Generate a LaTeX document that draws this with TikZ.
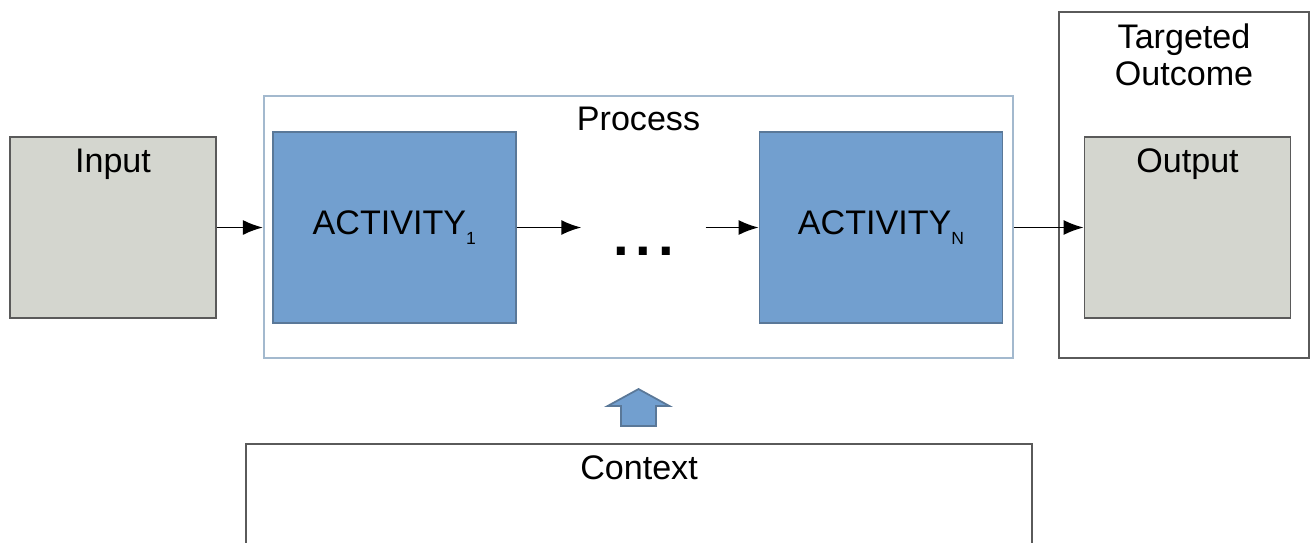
\documentclass[tikz,border=0pt]{standalone}
\usepackage{fontspec}
\setmainfont{Liberation Sans}
\usepackage{tikz}
\usetikzlibrary{positioning, calc, arrows.meta}
\definecolor{pmgray}{HTML}{D4D6CF}
\definecolor{pmedge}{HTML}{5A5A5A}
\definecolor{pmblue}{HTML}{729FCF}
\definecolor{pmbluedge}{HTML}{5A7898}
\definecolor{pmframe}{HTML}{A3B9CE}

\begin{document}
\begin{tikzpicture}[node distance=0.55cm, font=\fontsize{9.7}{10.5}\selectfont]
  \tikzset{
    box/.style={rectangle, draw=pmedge, line width=0.5pt, fill=#1,
      inner sep=0pt},
    graybox/.style={box=pmgray, minimum width=2.06cm, minimum height=1.81cm},
    actbox/.style={rectangle, draw=pmbluedge, line width=0.5pt, fill=pmblue,
      minimum width=2.43cm, minimum height=1.91cm},
    title/.style={label={[anchor=north, align=center]90:{#1}}},
    flow/.style={-{Latex[length=2mm, width=1.5mm]}, line width=0.5pt},
  }
  \useasboundingbox (0,0) rectangle (13.11,-5.42);

  % frames first, so the boxes sit on top
  \node[rectangle, draw=pmframe, line width=0.6pt, fill=white,
        minimum width=7.49cm, minimum height=2.62cm, title=Process]
        (proc) at (6.385,-2.27) {};
  \node[box=white, minimum width=2.50cm, minimum height=3.46cm,
        title={Targeted\\Outcome}] (goal) at (11.84,-1.85) {};

  \node[graybox, title=Input] (inp) at (1.13,-2.275) {};
  \node[actbox, right=of inp] (a1)
        {ACTIVITY\raisebox{-3pt}{\fontsize{5}{5}\selectfont 1}};
  \node[actbox, right=2.42cm of a1] (an)
        {ACTIVITY\raisebox{-3pt}{\fontsize{5}{5}\selectfont N}};
  \node[inner sep=0pt, minimum width=1.23cm, anchor=base] (dots) at (6.435,-2.55)
        {\fontsize{16}{16}\selectfont\bfseries .\hspace{2pt}.\hspace{2pt}.};
  \node[graybox, title=Output] (out) at (11.875,-2.275) {};

  \draw[flow] (inp.east) -- (inp.east -| proc.west);
  \draw[flow] (a1.east) -- (a1.east -| dots.west);
  \draw[flow] (an.west -| dots.east) -- (an.west);
  \draw[flow] (proc.east |- out.west) -- (out.west);

  % context feeding into the process
  \node[box=white, minimum width=7.86cm, minimum height=1.6cm, anchor=north,
        title=Context] (ctx) at (6.39,-4.43) {};
  \draw[draw=pmbluedge, fill=pmblue, line width=0.5pt]
    ($(proc.south)+(0,-0.30)$) -- ++(0.31,-0.17) -- ++(-0.135,0) -- ++(0,-0.20)
    -- ++(-0.35,0) -- ++(0,0.20) -- ++(-0.135,0) -- cycle;
\end{tikzpicture}
\end{document}
